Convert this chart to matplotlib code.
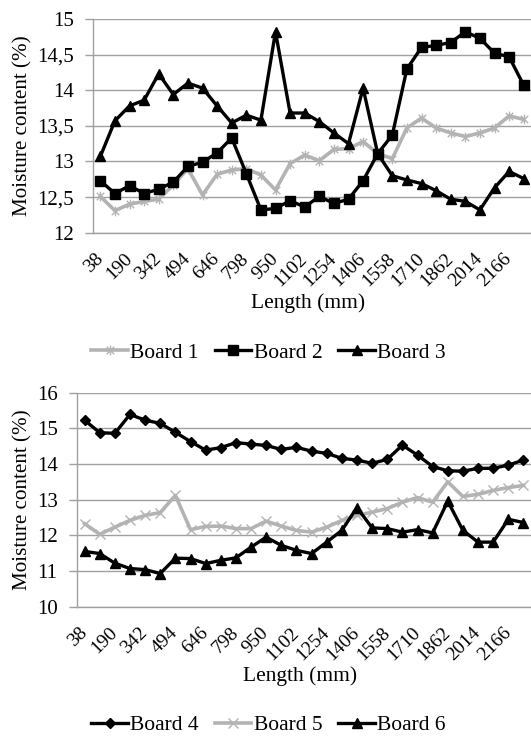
import matplotlib
matplotlib.use("Agg")
import matplotlib.pyplot as plt
from matplotlib.path import Path

plt.rcParams['font.family'] = ['Liberation Serif', 'DejaVu Serif']

lengths = [38, 114, 190, 266, 342, 418, 494, 570, 646, 722, 798, 874, 950, 1026,
           1102, 1178, 1254, 1330, 1406, 1482, 1558, 1634, 1710, 1786, 1862, 1938,
           2014, 2090, 2166, 2242]

board1 = [12.51, 12.31, 12.40, 12.44, 12.47, 12.67, 12.90, 12.53, 12.82, 12.88,
          12.90, 12.81, 12.60, 12.97, 13.09, 13.01, 13.17, 13.18, 13.28, 13.11,
          13.04, 13.47, 13.61, 13.47, 13.40, 13.35, 13.40, 13.47, 13.64, 13.59]
board2 = [12.73, 12.55, 12.66, 12.55, 12.61, 12.71, 12.93, 12.99, 13.12, 13.33,
          12.83, 12.32, 12.34, 12.45, 12.36, 12.51, 12.41, 12.47, 12.73, 13.11,
          13.37, 14.30, 14.60, 14.63, 14.67, 14.82, 14.73, 14.52, 14.47, 14.07]
board3 = [13.07, 13.57, 13.78, 13.86, 14.23, 13.94, 14.10, 14.03, 13.78, 13.54,
          13.65, 13.58, 14.82, 13.68, 13.68, 13.56, 13.40, 13.25, 14.03, 13.11,
          12.80, 12.74, 12.69, 12.59, 12.47, 12.44, 12.32, 12.63, 12.86, 12.76]

board4 = [15.23, 14.88, 14.86, 15.39, 15.23, 15.14, 14.89, 14.63, 14.39, 14.46,
          14.60, 14.56, 14.52, 14.41, 14.47, 14.36, 14.30, 14.16, 14.11, 14.02,
          14.13, 14.53, 14.25, 13.93, 13.81, 13.80, 13.88, 13.88, 13.97, 14.11]
board5 = [12.33, 12.03, 12.23, 12.42, 12.56, 12.64, 13.12, 12.16, 12.25, 12.26,
          12.19, 12.19, 12.40, 12.26, 12.14, 12.09, 12.23, 12.42, 12.56, 12.65,
          12.75, 12.93, 13.06, 12.93, 13.50, 13.09, 13.15, 13.26, 13.34, 13.40]
board6 = [11.55, 11.49, 11.22, 11.07, 11.04, 10.93, 11.36, 11.35, 11.21, 11.30,
          11.37, 11.67, 11.95, 11.72, 11.58, 11.49, 11.81, 12.14, 12.78, 12.21,
          12.19, 12.09, 12.16, 12.07, 12.96, 12.14, 11.81, 11.81, 12.45, 12.36]

top_yticks = [12, 12.5, 13, 13.5, 14, 14.5, 15]
top_yticklabels = ["12", "12,5", "13", "13,5", "14", "14,5", "15"]
bot_yticks = [10, 11, 12, 13, 14, 15, 16]
bot_yticklabels = ["10", "11", "12", "13", "14", "15", "16"]

GREY = '#b3b3b3'
GRID = '#a0a0a0'
W, H = 531, 737

star = Path([(-1, -1), (1, 1), (-1, 1), (1, -1), (0, -1.3), (0, 1.3)],
            [Path.MOVETO, Path.LINETO, Path.MOVETO, Path.LINETO, Path.MOVETO, Path.LINETO])

fig = plt.figure(figsize=(W / 100, H / 100), dpi=100)

def make_axes(left_px, right_px, top_px, bottom_px):
    return fig.add_axes([left_px / W, 1 - bottom_px / H,
                         (right_px - left_px) / W, (bottom_px - top_px) / H])

ax1 = make_axes(93, 531, 19, 232.7)
ax2 = make_axes(77, 531, 392.7, 606.7)

x = list(range(len(lengths)))

ax1.plot(x, board1, color=GREY, lw=2.6, marker=star, ms=7, mew=1.0, mec=GREY, label='Board 1', zorder=3)
ax1.plot(x, board2, color='black', lw=2.4, marker='s', ms=6.5, label='Board 2', zorder=4)
ax1.plot(x, board3, color='black', lw=2.4, marker='^', ms=7.5, label='Board 3', zorder=4)

ax2.plot(x, board4, color='black', lw=2.4, marker='D', ms=5.5, label='Board 4', zorder=4)
ax2.plot(x, board5, color=GREY, lw=2.6, marker='x', ms=7.5, mew=1.0, mec=GREY, label='Board 5', zorder=3)
ax2.plot(x, board6, color='black', lw=2.4, marker='^', ms=7.5, label='Board 6', zorder=4)

def style(ax, yticks, ylabels, left_px, right_px, top_px, bottom_px, label_y_px, legend_y_px):
    ax.set_xlim(-0.5, len(lengths) - 0.5)
    ax.set_ylim(yticks[0], yticks[-1])
    ax.set_yticks(yticks)
    ax.set_yticklabels(ylabels)
    ax.set_xticks(x[::2])
    ax.set_xticklabels([str(v) for v in lengths[::2]], rotation=45, ha='right',
                       va='center', rotation_mode='anchor')
    ax.tick_params(axis='x', length=0, pad=17, labelsize=14)
    ax.tick_params(axis='y', length=5.5, width=1, color=GRID, pad=8.5, labelsize=15)
    ax.grid(axis='y', color=GRID, lw=1.0)
    ax.set_axisbelow(True)
    for s in ['top', 'right']:
        ax.spines[s].set_visible(False)
    for s in ['left', 'bottom']:
        ax.spines[s].set_color(GRID)
        ax.spines[s].set_linewidth(1.0)
    ax.set_ylabel('Moisture content (%)', fontsize=15.2, va='center')
    ax.yaxis.set_label_coords(22.5 / W, 1 - (top_px + bottom_px) / 2 / H, transform=fig.transFigure)
    ax.set_xlabel('Length (mm)', fontsize=15.5)
    ax.xaxis.set_label_coords((left_px + right_px) / 2 / W - 0.008, 1 - label_y_px / H,
                              transform=fig.transFigure)
    ax.xaxis.label.set_va('center')
    ax.legend(loc='center', bbox_to_anchor=(268.5 / W, 1 - legend_y_px / H),
              bbox_transform=fig.transFigure, ncol=3, frameon=False,
              fontsize=15.5, handlelength=1.7, handletextpad=0.1, columnspacing=0.75)

style(ax1, top_yticks, top_yticklabels, 93, 531, 19, 232.7, 302.7, 353)
style(ax2, bot_yticks, bot_yticklabels, 77, 531, 392.7, 606.7, 676, 725)

fig.savefig('out.png', dpi=100)
